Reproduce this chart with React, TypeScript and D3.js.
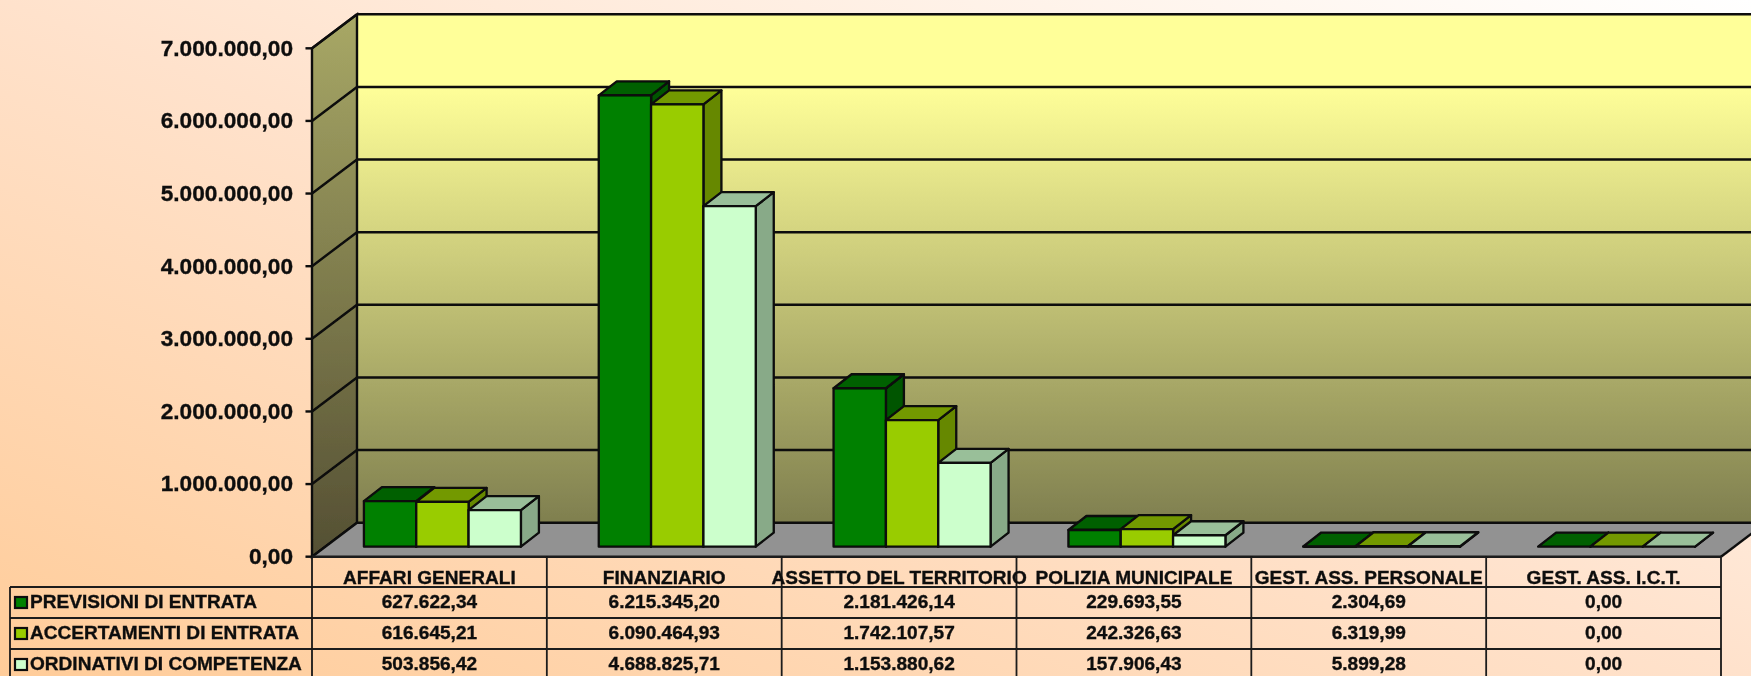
import React from "react";
import * as d3 from "d3";

const categories = ["AFFARI GENERALI", "FINANZIARIO", "ASSETTO DEL TERRITORIO", "POLIZIA MUNICIPALE", "GEST. ASS. PERSONALE", "GEST. ASS. I.C.T."];
const seriesNames = ["PREVISIONI DI ENTRATA", "ACCERTAMENTI DI ENTRATA", "ORDINATIVI DI COMPETENZA"];
const previsioni = [627622.34, 6215345.2, 2181426.14, 229693.55, 2304.69, 0];
const accertamenti = [616645.21, 6090464.93, 1742107.57, 242326.63, 6319.99, 0];
const ordinativi = [503856.42, 4688825.71, 1153880.62, 157906.43, 5899.28, 0];
const series = [previsioni, accertamenti, ordinativi];
const tickValues = [0, 1000000, 2000000, 3000000, 4000000, 5000000, 6000000, 7000000];
const frontColors = ["#008000", "#99CC00", "#CCFFCC"];
const topColors = ["#006000", "#739900", "#99BF99"];
const sideColors = ["#005500", "#668800", "#88AA88"];

const W = 1751, H = 676;
const fmt = d3.formatLocale({ decimal: ",", thousands: ".", grouping: [3], currency: ["", ""] }).format(",.2f");
const FONT = "'Liberation Sans', Arial, sans-serif";

const left = 312, right = 1721, y0 = 556.7, yTop = 48.3;
const wallDx = 45, wallDy = -34;
const barInsetX = 13, barInsetY = -10;
const barDx = 18, barDy = -14;
const rowY = [587, 618, 649];
const tableLeft = 10;

const yWall = d3.scaleLinear().domain([0, 7000000]).range([y0, yTop]);
const xCat = d3.scaleBand<number>().domain(categories.map((_, i) => i)).range([left, right]);
const xSer = d3.scaleBand<number>().domain([0, 1, 2]).range([0, 157]);

function T({ x, y, anchor = "middle", size = 18, sx = 1.06, children }: any) {
  return (
    <text transform={`translate(${x},${y}) scale(${sx},1)`} textAnchor={anchor} fontFamily={FONT} fontWeight="bold" fontSize={size} fill="#111" stroke="#111" strokeWidth={0.35}>
      {children}
    </text>
  );
}

const poly = (pts: number[][]) => pts.map((p) => p.join(",")).join(" ");

export default function App() {
  const bh = xSer.bandwidth();
  const barBase = y0 + barInsetY;
  return (
    <svg width={W} height={H} viewBox={`0 0 ${W} ${H}`} style={{ position: "absolute", left: 0, top: 0, display: "block" }}>
      <defs>
        <linearGradient id="bg" x1="0" y1="1" x2="1" y2="0">
          <stop offset="0" stopColor="#FFCC99" />
          <stop offset="0.5" stopColor="#FFE2CC" />
          <stop offset="1" stopColor="#FFFFFF" />
        </linearGradient>
        <linearGradient id="back" x1="0" y1="0" x2="0" y2="1">
          <stop offset="0" stopColor="#FFFF99" />
          <stop offset="0.14" stopColor="#FFFF99" />
          <stop offset="1" stopColor="#7F7F4F" />
        </linearGradient>
        <linearGradient id="side" x1="0" y1="0" x2="0" y2="1">
          <stop offset="0" stopColor="#A8A866" />
          <stop offset="1" stopColor="#544F33" />
        </linearGradient>
        <filter id="soft"><feGaussianBlur stdDeviation="0.45" /></filter>
      </defs>
      <rect x={0} y={0} width={W} height={H} fill="url(#bg)" />
      <g filter="url(#soft)">
        <rect x={left + wallDx} y={yTop + wallDy} width={W} height={y0 - yTop} fill="url(#back)" />
        <polygon
          points={poly([[left, y0], [left, yTop], [left + wallDx, yTop + wallDy], [left + wallDx, y0 + wallDy]])}
          fill="url(#side)" stroke="#111" strokeWidth={2.4}
        />
        <polygon
          points={poly([[left, y0], [left + wallDx, y0 + wallDy], [W + 20, y0 + wallDy], [right + wallDx, y0 + wallDy], [right, y0]])}
          fill="#929292"
        />
        <line x1={right} y1={y0} x2={right + wallDx} y2={y0 + wallDy} stroke="#111" strokeWidth={2.4} />
        {tickValues.map((t) => (
          <g key={t} stroke="#0a0a0a" strokeWidth={2.4} fill="none">
            <line x1={left - 6.5} x2={left} y1={yWall(t)} y2={yWall(t)} />
            <line x1={left} y1={yWall(t)} x2={left + wallDx} y2={yWall(t) + wallDy} />
            <line x1={left + wallDx} y1={yWall(t) + wallDy} x2={W} y2={yWall(t) + wallDy} />
          </g>
        ))}
        {categories.map((c, ci) =>
          series.map((vals, si) => {
            const x = (xCat(ci) as number) + (xCat.bandwidth() - 157) / 2 + barInsetX + (xSer(si) as number);
            const top = yWall(vals[ci]) + barInsetY;
            const stroke = { stroke: "#0a0a0a", strokeWidth: 2.3, strokeLinejoin: "round" as const };
            return (
              <g key={c + si}>
                <polygon points={poly([[x + bh, barBase], [x + bh, top], [x + bh + barDx, top + barDy], [x + bh + barDx, barBase + barDy]])} fill={sideColors[si]} {...stroke} />
                <polygon points={poly([[x, top], [x + barDx, top + barDy], [x + bh + barDx, top + barDy], [x + bh, top]])} fill={topColors[si]} {...stroke} />
                {vals[ci] > 0 && <rect x={x} y={top} width={bh} height={barBase - top} fill={frontColors[si]} {...stroke} />}
              </g>
            );
          })
        )}
        <g stroke="#1a1a1a" fill="none">
          <line x1={left} x2={right} y1={y0} y2={y0} strokeWidth={2.6} />
          {rowY.map((y) => (
            <line key={y} x1={tableLeft} x2={right} y1={y} y2={y} strokeWidth={1.8} />
          ))}
          <line x1={tableLeft} x2={tableLeft} y1={rowY[0]} y2={H} strokeWidth={1.8} />
          {d3.range(7).map((i) => (
            <line key={i} x1={left + i * xCat.bandwidth()} x2={left + i * xCat.bandwidth()} y1={y0} y2={H} strokeWidth={1.8} />
          ))}
        </g>
        {seriesNames.map((n, si) => (
          <rect key={n} x={15} y={rowY[si] + 10} width={12} height={11} fill={frontColors[si]} stroke="#111" strokeWidth={2.2} />
        ))}
      </g>
      <g filter="url(#soft)">
        {tickValues.map((t) => (
          <T key={t} x={293} y={yWall(t) + 7.4} anchor="end" size={22} sx={1.03}>{fmt(t)}</T>
        ))}
        {categories.map((c, i) => (
          <T key={c} x={(xCat(i) as number) + xCat.bandwidth() / 2} y={584.3}>{c}</T>
        ))}
        {seriesNames.map((n, si) => (
          <T key={n} x={30} y={rowY[si] + 21.3} anchor="start">{n}</T>
        ))}
        {series.map((vals, si) =>
          vals.map((v, i) => (
            <T key={si + "-" + i} x={(xCat(i) as number) + xCat.bandwidth() / 2} y={rowY[si] + 21.3}>{fmt(v)}</T>
          ))
        )}
      </g>
    </svg>
  );
}
